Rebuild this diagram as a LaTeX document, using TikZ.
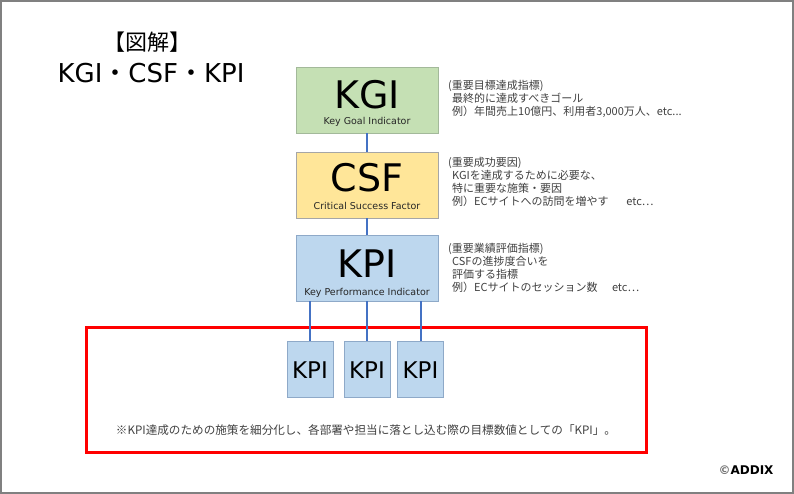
\documentclass[tikz,border=0pt]{standalone}
\usepackage{fontspec}
\setmainfont{Noto Sans CJK JP}
\newfontfamily\lat{DejaVu Sans}
\newfontfamily\jp{Noto Sans CJK JP}

\definecolor{kgifill}{HTML}{C5E0B4}
\definecolor{kgiline}{HTML}{A3B99A}
\definecolor{csffill}{HTML}{FFE699}
\definecolor{csfline}{HTML}{A6A6A6}
\definecolor{kpifill}{HTML}{BDD7EE}
\definecolor{kpiline}{HTML}{8EA9C8}
\definecolor{linkblue}{HTML}{4472C4}
\definecolor{memo}{HTML}{404040}

\tikzset{
  bigbox/.style={draw=#1, line width=0.8pt, minimum width=142pt, minimum height=66pt, inner sep=0pt},
  smallbox/.style={draw=kpiline, fill=kpifill, line width=0.8pt, minimum width=46pt, minimum height=56pt, inner sep=0pt},
  bigtext/.style={anchor=base, inner sep=0pt, font=\lat\fontsize{38}{38}\selectfont},
  subtext/.style={anchor=base, inner sep=0pt, font=\lat\fontsize{9.5}{9.5}\selectfont, text=black!85},
  kpitext/.style={anchor=base, inner sep=0pt, font=\lat\fontsize{23}{23}\selectfont},
  memotext/.style={anchor=base west, inner sep=0pt, align=left, text=memo, font=\fontsize{11}{13}\selectfont},
  link/.style={draw=linkblue, line width=2pt},
  frame/.style={draw=black!50, line width=2pt},
  redframe/.style={draw=red, line width=3pt, minimum width=560pt, minimum height=125pt, inner sep=0pt}
}

\begin{document}
\begin{tikzpicture}[x=1pt,y=-1pt]
\useasboundingbox (0,0) rectangle (794,494);
\draw[frame] (1,1) rectangle (792.5,492.5);

\node[inner sep=0pt, font=\fontsize{22}{22}\selectfont] (zukai) at (147,42) {【図解】};
\node[anchor=base, inner sep=0pt, font=\lat\fontsize{26}{26}\selectfont] (title) at (151,82.5)
  {KGI{\jp ・}CSF{\jp ・}KPI};

\node[bigbox=kgiline, fill=kgifill] (kgi) at (367,100) {};
\node[bigtext] (kgiT) at (367,108.5) {KGI};
\node[subtext] (kgiS) at (367,124.5) {Key Goal Indicator};

\node[bigbox=csfline, fill=csffill] (csf) at (367,185) {};
\node[bigtext] (csfT) at (367,192) {CSF};
\node[subtext] (csfS) at (367,210) {Critical Success Factor};

\node[bigbox=kpiline, fill=kpifill] (kpi) at (367,268) {};
\node[bigtext] (kpiT) at (367,277) {KPI};
\node[subtext] (kpiS) at (367,295) {Key Performance Indicator};

\node[memotext] (kgiM) at (448,116) {(重要目標達成指標)\\
  \hspace*{4pt}最終的に達成すべきゴール\\
  \hspace*{4pt}例）年間売上10億円、利用者3,000万人、etc...};
\node[memotext] (csfM) at (448,206) {(重要成功要因)\\
  \hspace*{4pt}KGIを達成するために必要な、\\
  \hspace*{4pt}特に重要な施策・要因\\
  \hspace*{4pt}例）ECサイトへの訪問を増やす\hspace{1.6em}etc…};
\node[memotext] (kpiM) at (448,291) {(重要業績評価指標)\\
  \hspace*{4pt}CSFの進捗度合いを\\
  \hspace*{4pt}評価する指標\\
  \hspace*{4pt}例）ECサイトのセッション数\hspace{1.3em}etc…};

\node[redframe] (area) at (366,389.5) {};

\node[smallbox] (s1) at (310,369) {};
\node[smallbox] (s2) at (367,369) {};
\node[smallbox] (s3) at (420.5,369) {};
\foreach \s in {s1,s2,s3}
  \node[kpitext] (\s T) at (\s |- 0,378) {KPI};

\draw[link] (kgi) -- (csf);
\draw[link] (csf) -- (kpi);
\foreach \s in {s1,s2,s3}
  \draw[link] (\s.north |- kpi.south) -- (\s.north);

\node[anchor=base, inner sep=0pt, text=memo, font=\fontsize{11.6}{11.6}\selectfont] (noteT) at (366,434.5)
  {※KPI達成のための施策を細分化し、各部署や担当に落とし込む際の目標数値としての「KPI」。};

\node[anchor=base, inner sep=0pt, font=\lat\bfseries\fontsize{12}{12}\selectfont] (copy) at (746,474.5)
  {{\color{black!55}©}ADDIX};
\end{tikzpicture}
\end{document}
